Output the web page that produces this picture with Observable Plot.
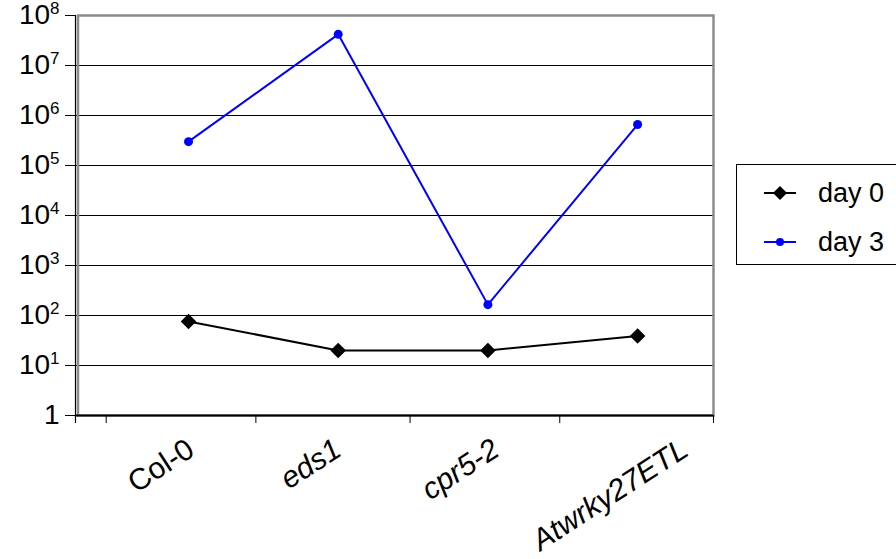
<!DOCTYPE html>
<html><head><meta charset="utf-8">
<script src="https://cdn.jsdelivr.net/npm/d3@7"></script>
<script src="https://cdn.jsdelivr.net/npm/@observablehq/plot@0.6"></script>
<style>
body{margin:0;width:896px;height:559px;overflow:hidden;background:#fff;font-family:"Liberation Sans",Arial,sans-serif;position:relative}
#chart svg{display:block}
#legend{position:absolute;left:736px;top:164px;width:220px;height:101px;border:1px solid #000;box-sizing:border-box;background:#fff}
.item{position:absolute;left:26px;height:34px;display:flex;align-items:center;font-size:27px;color:#000;white-space:nowrap}
.item span{margin-left:21px}
</style></head><body>
<div id="chart"></div>
<div id="legend"></div>
<script>
const categories = ["Col-0", "eds1", "cpr5-2", "Atwrky27ETL"];
const day0 = [76, 20, 20, 39];
const day3 = [3.0e5, 4.2e7, 165, 6.6e5];
const seriesNames = ["day 0", "day 3"];
const seriesColors = ["#000000", "#0000ff"];
const yTicks = [1, 1e1, 1e2, 1e3, 1e4, 1e5, 1e6, 1e7, 1e8];
const xDomain = [-0.755, 3.507];
const bandEdges = [-0.55, 0.45, 1.48, 2.48, 3.507];

const rows0 = categories.map((c, i) => ({cat: c, i, value: day0[i]}));
const rows3 = categories.map((c, i) => ({cat: c, i, value: day3[i]}));
const labelSize = 30, labelAngle = -33;

const plot = Plot.plot({
  width: 896,
  height: 559,
  marginLeft: 75,
  marginRight: 183,
  marginTop: 15,
  marginBottom: 144,
  style: {fontFamily: "'Liberation Sans', Arial, sans-serif", background: "#fff", color: "#000"},
  x: {type: "linear", domain: xDomain, axis: null},
  y: {type: "log", domain: [1, 1e8], axis: null},
  marks: [
    Plot.ruleY(yTicks.slice(1, -1), {stroke: "#000", strokeWidth: 1}),
    Plot.frame({stroke: "#8c8c8c", strokeWidth: 2.5, insetLeft: 2.5}),
    Plot.ruleY([1], {stroke: "#000", strokeWidth: 2}),
    Plot.ruleX([xDomain[0]], {stroke: "#000", strokeWidth: 1.2, insetBottom: -8}),
    Plot.axisY({ticks: yTicks, tickSize: 10, tickPadding: 6, fontSize: 28, label: null,
      tickFormat: d => d === 1 ? "1" : "10^" + Math.round(Math.log10(d))}),
    Plot.axisX({ticks: bandEdges, tickSize: 8, tickFormat: () => "", label: null}),
    Plot.line(rows0, {x: "i", y: "value", stroke: seriesColors[0], strokeWidth: 2}),
    Plot.dot(rows0, {x: "i", y: "value", symbol: "diamond2", r: 7, fill: seriesColors[0], stroke: "none"}),
    Plot.line(rows3, {x: "i", y: "value", stroke: seriesColors[1], strokeWidth: 2}),
    Plot.dot(rows3, {x: "i", y: "value", symbol: "circle", r: 4.5, fill: seriesColors[1], stroke: "none"}),
    Plot.text(categories, {x: (d, i) => i, frameAnchor: "bottom", rotate: labelAngle, fontSize: labelSize,
      textAnchor: "middle", filter: d => d === "Col-0"}),
    Plot.text(categories, {x: (d, i) => i, frameAnchor: "bottom", rotate: labelAngle, fontSize: labelSize,
      textAnchor: "middle", fontStyle: "italic", filter: d => d !== "Col-0"})
  ]
});
document.getElementById("chart").appendChild(plot);

// superscript exponents on the y tick labels
plot.querySelectorAll("text").forEach(t => {
  const m = t.textContent.match(/^10\^(\d+)$/);
  if (m) {
    t.textContent = "10";
    const ts = document.createElementNS("http://www.w3.org/2000/svg", "tspan");
    ts.setAttribute("font-size", "17");
    ts.setAttribute("dy", "-10");
    ts.textContent = m[1];
    t.appendChild(ts);
  }
});

// place rotated category labels so that their bounding box hangs below the axis
const xs = plot.scale("x"), ys = plot.scale("y");
const th = Math.abs(labelAngle) * Math.PI / 180;
[...plot.querySelectorAll("text")].filter(t => categories.includes(t.textContent)).forEach(t => {
  const idx = categories.indexOf(t.textContent);
  const L = t.getComputedTextLength();
  const H = L * Math.sin(th) + 0.8 * labelSize * Math.cos(th);
  const px = xs.apply(idx) - 28;
  const py = ys.apply(1) + 20 + H / 2;
  t.setAttribute("transform", `translate(${px},${py}) rotate(${labelAngle})`);
  t.setAttribute("text-anchor", "middle");
  t.removeAttribute("x"); t.removeAttribute("y");
  t.setAttribute("dy", "0.35em");
});

// legend
const legend = document.getElementById("legend");
seriesNames.forEach((name, k) => {
  const item = document.createElement("div");
  item.className = "item";
  item.style.top = (k === 0 ? 28 : 77) - 17 + "px";
  const marker = k === 0
    ? `<polygon points="17,3 24,10 17,17 10,10" fill="${seriesColors[k]}"/>`
    : `<circle cx="17" cy="10" r="4" fill="${seriesColors[k]}"/>`;
  item.innerHTML = `<svg width="34" height="20"><line x1="1" x2="33" y1="10" y2="10" stroke="${seriesColors[k]}" stroke-width="2"/>${marker}</svg><span>${name}</span>`;
  legend.appendChild(item);
});
</script>
</body></html>
